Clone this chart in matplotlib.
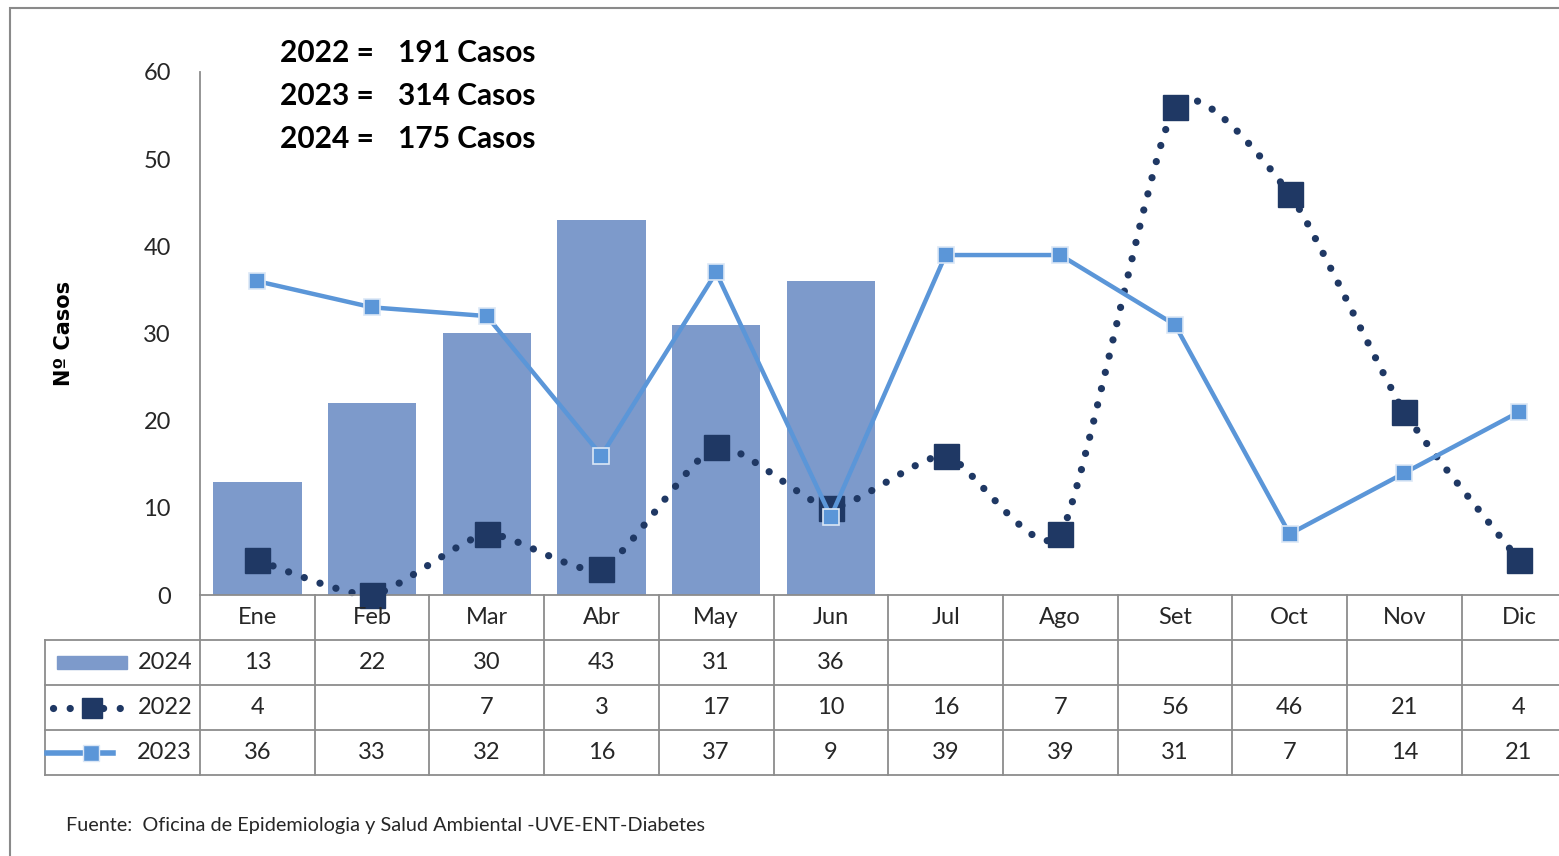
import numpy as np
import matplotlib
matplotlib.use("Agg")
from matplotlib import pyplot as plt
from matplotlib.path import Path
from matplotlib.patches import PathPatch, Rectangle
from matplotlib.lines import Line2D
from matplotlib.transforms import blended_transform_factory

plt.rcParams['font.family'] = ['Lato', 'DejaVu Sans']

# Data
meses = ['Ene', 'Feb', 'Mar', 'Abr', 'May', 'Jun', 'Jul', 'Ago', 'Set', 'Oct', 'Nov', 'Dic']
casos_2024 = [13, 22, 30, 43, 31, 36]
casos_2022 = [4, None, 7, 3, 17, 10, 16, 7, 56, 46, 21, 4]
casos_2023 = [36, 33, 32, 16, 37, 9, 39, 39, 31, 7, 14, 21]
totales = [('2022', 191), ('2023', 314), ('2024', 175)]
fuente = 'Fuente:  Oficina de Epidemiologia y Salud Ambiental -UVE-ENT-Diabetes'

c_bar = '#7d9acb'
c_2022 = '#1f3864'
c_2023 = '#5b96d8'
c_grid = '#8c8c8c'
c_text = '#262626'

W, H = 1559, 856
fig = plt.figure(figsize=(W / 100, H / 100), dpi=100)
ax = fig.add_axes([200 / W, (H - 595) / H, 12 * 114.7 / W, 523 / H])

x = np.arange(len(meses))
y22 = np.array([0 if v is None else v for v in casos_2022], dtype=float)

# 2024 bars
ax.bar(x[:len(casos_2024)], casos_2024, width=0.77, color=c_bar, zorder=1)

# 2022 smoothed dotted line (bezier through the points, low tension)
tension = 1 / 10
pts = np.column_stack([x, y22])
verts = [pts[0]]
codes = [Path.MOVETO]
for i in range(len(pts) - 1):
    p0 = pts[max(i - 1, 0)]
    p1 = pts[i]
    p2 = pts[i + 1]
    p3 = pts[min(i + 2, len(pts) - 1)]
    verts += [p1 + (p2 - p0) * tension, p2 - (p3 - p1) * tension, p2]
    codes += [Path.CURVE4] * 3
curve = PathPatch(Path(verts, codes), fill=False, edgecolor=c_2022, lw=5.2,
                  linestyle=(0, (0.01, 2.3)), capstyle='round', zorder=2, clip_on=False)
ax.add_patch(curve)
ax.plot(x, y22, linestyle='none', marker='s', ms=18, mfc=c_2022, mec=c_2022,
        zorder=3, clip_on=False)

# 2023 line
ax.plot(x, casos_2023, color=c_2023, lw=3.2, marker='s', ms=12, mfc=c_2023,
        mec='#dbe7f6', mew=1.2, zorder=4, clip_on=False)

ax.set_xlim(-0.5, len(meses) - 0.5)
ax.set_ylim(0, 60)
ax.set_yticks(range(0, 61, 10))
ax.set_xticks([])
ax.tick_params(axis='y', length=0, pad=21, labelsize=17, labelcolor=c_text)
for s in ['top', 'right', 'bottom']:
    ax.spines[s].set_visible(False)
ax.spines['left'].set_color(c_grid)
ax.spines['left'].set_linewidth(1.3)
ax.set_ylabel('Nº Casos', fontsize=15, fontweight='bold', color='black',
              family='DejaVu Sans', labelpad=50)

# data table below the axis
tr = blended_transform_factory(ax.transData, ax.transAxes)
rh = 45 / 523
x_left = -0.5 - 155 / 114.7
kw = dict(color=c_grid, lw=1.3, transform=tr, clip_on=False)
ax.add_line(Line2D([-0.5, 12.5], [0, 0], **kw))
for k in range(1, 5):
    ax.add_line(Line2D([x_left, 12.5], [-k * rh, -k * rh], **kw))
for b in np.arange(-0.5, 12, 1):
    ax.add_line(Line2D([b, b], [0, -4 * rh], **kw))
ax.add_line(Line2D([x_left, x_left], [-rh, -4 * rh], **kw))

filas = [casos_2024 + [None] * (12 - len(casos_2024)), casos_2022, casos_2023]
for i, m in enumerate(meses):
    ax.text(i, -0.5 * rh, m, transform=tr, ha='center', va='center',
            fontsize=17, color=c_text)
    for r, fila in enumerate(filas):
        if fila[i] is not None:
            ax.text(i, -(r + 1.5) * rh, str(fila[i]), transform=tr, ha='center',
                    va='center', fontsize=17, color=c_text)

# legend keys in the first column
u = 1 / 114.7
for r, nombre in enumerate(['2024', '2022', '2023']):
    ax.text(-0.5 - 8 * u, -(r + 1.5) * rh, nombre, transform=tr, ha='right',
            va='center', fontsize=17, color=c_text)
yk = -1.5 * rh
ax.add_patch(Rectangle((x_left + 12 * u, yk - 6.5 / 523), 70 * u, 13 / 523,
                       transform=tr, color=c_bar, clip_on=False))
yk = -2.5 * rh
ax.add_line(Line2D([x_left + 8 * u, x_left + 86 * u], [yk, yk], color=c_2022, lw=5.2,
                   linestyle=(0, (0.01, 2.3)), dash_capstyle='round', transform=tr, clip_on=False))
ax.add_line(Line2D([x_left + 47 * u], [yk], marker='s', ms=15, color=c_2022,
                   transform=tr, clip_on=False))
yk = -3.5 * rh
ax.add_line(Line2D([x_left + 2 * u, x_left + 68 * u], [yk, yk], color=c_2023, lw=4,
                   transform=tr, clip_on=False))
ax.add_line(Line2D([x_left + 46 * u], [yk], marker='s', ms=12, mfc=c_2023, mec='#dbe7f6',
                   transform=tr, clip_on=False))

# totals per year
for k, (anio, total) in enumerate(totales):
    yy = 1 - (53 + 43 * k) / H
    fig.text(280 / W, yy, f'{anio} =', fontsize=21.5, fontweight='bold', va='center')
    fig.text(398 / W, yy, f'{total} Casos', fontsize=21.5, fontweight='bold', va='center')

fig.text(66 / W, 1 - 826 / H, fuente, fontsize=14.3, color=c_text, va='center')

# chart border
fig.add_artist(Rectangle((10 / W, -0.1), 1.2, 1 - 8 / H + 0.1, transform=fig.transFigure,
                         fill=False, edgecolor='#8a8a8a', lw=1.5))

fig.savefig('out.png', dpi=100)
